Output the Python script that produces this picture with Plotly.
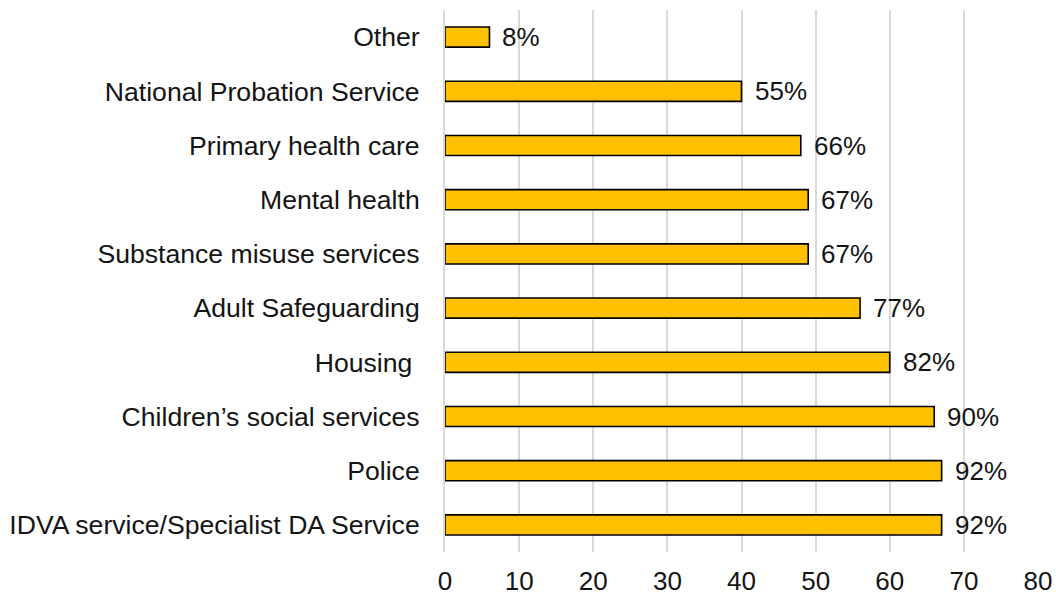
import plotly.graph_objects as go

# Agencies represented (top to bottom as drawn)
agencies = [
    "Other",
    "National Probation Service",
    "Primary health care",
    "Mental health",
    "Substance misuse services",
    "Adult Safeguarding",
    "Housing\u00a0",
    "Children\u2019s social services",
    "Police",
    "IDVA service/Specialist DA Service",
]
counts = [6, 40, 48, 49, 49, 56, 60, 66, 67, 67]
percent_labels = ["8%", "55%", "66%", "67%", "67%", "77%", "82%", "90%", "92%", "92%"]

x_ticks = [0, 10, 20, 30, 40, 50, 60, 70, 80]

FONT = "Liberation Sans, Arial, sans-serif"
TEXT_COLOR = "#141414"
FS = 26

fig = go.Figure()
fig.add_trace(
    go.Bar(
        x=counts,
        y=agencies,
        orientation="h",
        marker=dict(color="#FFC000", line=dict(color="#000000", width=1.6)),
        width=0.37,
        hoverinfo="skip",
    )
)

for name, n, lab in zip(agencies, counts, percent_labels):
    fig.add_annotation(
        x=n, y=name, text=lab, showarrow=False,
        xanchor="left", xshift=11,
        font=dict(family=FONT, size=FS, color=TEXT_COLOR),
    )

fig.update_layout(
    width=1056, height=597,
    margin=dict(l=445, r=18, t=10, b=45),
    paper_bgcolor="white", plot_bgcolor="white",
    showlegend=False,
    font=dict(family=FONT, size=FS, color=TEXT_COLOR),
)
fig.update_xaxes(
    range=[0, 80], tickvals=x_ticks,
    showgrid=True, gridcolor="#d9d9d9", gridwidth=2,
    zeroline=False, showline=False,
    tickfont=dict(family=FONT, size=FS, color=TEXT_COLOR),
    ticks="", ticklabelstandoff=11, automargin=False,
)
fig.update_yaxes(
    categoryorder="array", categoryarray=agencies[::-1],
    showgrid=False, zeroline=False,
    showline=True, linecolor="#d9d9d9", linewidth=2,
    ticks="", ticklabelstandoff=18, automargin=False,
    tickfont=dict(family=FONT, size=26.6, color=TEXT_COLOR),
)

fig.write_html("out.html")
